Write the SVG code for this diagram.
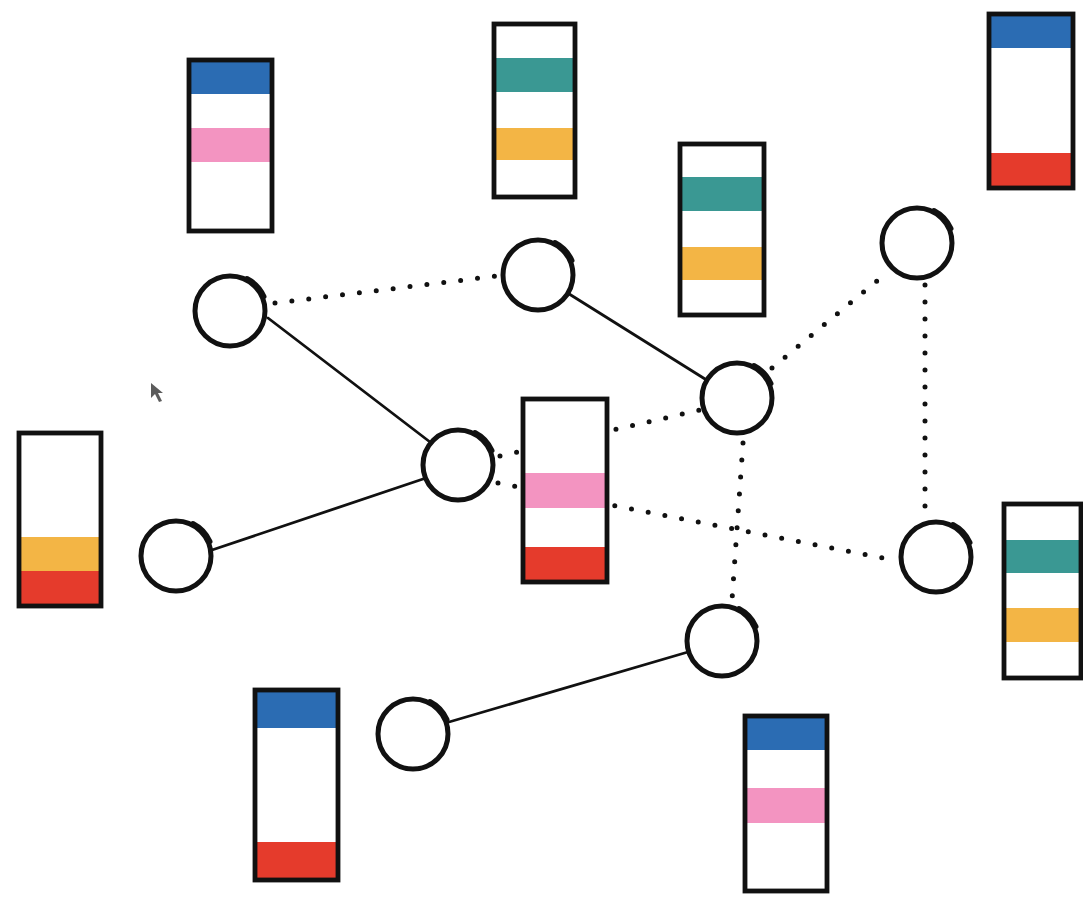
<svg xmlns="http://www.w3.org/2000/svg" xmlns:xlink="http://www.w3.org/1999/xlink" width="1083" height="897" viewBox="0 0 1083 897">
  <style>
    .frame { fill: none; stroke: #111; stroke-width: 4.8; }
    .bg { fill: #fff; }
    .blue { fill: #2b6cb3; }
    .pink { fill: #f394c1; }
    .teal { fill: #3a9893; }
    .orange { fill: #f3b545; }
    .red { fill: #e53b2c; }
    .solid { stroke: #111; stroke-width: 2.8; fill: none; stroke-linecap: round; }
    .dotted { stroke: #111; stroke-width: 5; fill: none; stroke-linecap: round; stroke-dasharray: 0 17; }
    .ring { fill: #fff; stroke: #111; stroke-width: 5; }
    .blob { fill: none; stroke: #111; stroke-width: 5; stroke-linecap: round; }
  </style>
  <defs>
    <!-- hand-drawn style circle with a heavier stroke where the pen overlapped -->
    <g id="ring">
      <circle class="ring" cx="0" cy="0" r="35"/>
      <path class="blob" d="M17,-32.5 A37,37 0 0 1 34,-14.5"/>
    </g>
  </defs>

  <rect x="0" y="0" width="1083" height="897" fill="#fff"/>

  <!-- connectors -->
  <g id="connectors">
    <line class="solid" x1="268" y1="318" x2="430" y2="442"/>
    <line class="solid" x1="212" y1="550" x2="426" y2="478"/>
    <line class="solid" x1="566" y1="292" x2="705" y2="379"/>
    <line class="solid" x1="449" y1="722" x2="688" y2="652"/>
    <line class="dotted" x1="275" y1="303" x2="497" y2="276"/>
    <line class="dotted" x1="500" y1="456" x2="700" y2="410"/>
    <line class="dotted" x1="498" y1="483" x2="888" y2="559"/>
    <line class="dotted" x1="772" y1="368" x2="878" y2="280"/>
    <line class="dotted" x1="925" y1="285" x2="925" y2="510"/>
    <line class="dotted" x1="743" y1="443" x2="732" y2="600"/>
  </g>

  <!-- circle nodes -->
  <g id="node-a"><use xlink:href="#ring" href="#ring" x="230" y="311"/></g>
  <g id="node-b"><use xlink:href="#ring" href="#ring" x="538" y="275"/></g>
  <g id="node-c"><use xlink:href="#ring" href="#ring" x="458" y="465"/></g>
  <g id="node-d"><use xlink:href="#ring" href="#ring" x="176" y="556"/></g>
  <g id="node-e"><use xlink:href="#ring" href="#ring" x="737" y="398"/></g>
  <g id="node-f"><use xlink:href="#ring" href="#ring" x="917" y="243"/></g>
  <g id="node-g"><use xlink:href="#ring" href="#ring" x="936" y="557"/></g>
  <g id="node-h"><use xlink:href="#ring" href="#ring" x="722" y="641"/></g>
  <g id="node-i"><use xlink:href="#ring" href="#ring" x="413" y="734"/></g>

  <!-- striped bars -->
  <g id="bar-1">
    <rect class="bg" x="189" y="60" width="83" height="171"/>
    <rect class="blue" x="189" y="62" width="83" height="32"/>
    <rect class="pink" x="189" y="128" width="83" height="34"/>
    <rect class="frame" x="189" y="60" width="83" height="171"/>
  </g>
  <g id="bar-2">
    <rect class="bg" x="494" y="24" width="81" height="173"/>
    <rect class="teal" x="494" y="58" width="81" height="34"/>
    <rect class="orange" x="494" y="128" width="81" height="32"/>
    <rect class="frame" x="494" y="24" width="81" height="173"/>
  </g>
  <g id="bar-3">
    <rect class="bg" x="680" y="144" width="84" height="171"/>
    <rect class="teal" x="680" y="177" width="84" height="34"/>
    <rect class="orange" x="680" y="247" width="84" height="33"/>
    <rect class="frame" x="680" y="144" width="84" height="171"/>
  </g>
  <g id="bar-4">
    <rect class="bg" x="989" y="14" width="84" height="174"/>
    <rect class="blue" x="989" y="15" width="84" height="33"/>
    <rect class="red" x="989" y="153" width="84" height="34"/>
    <rect class="frame" x="989" y="14" width="84" height="174"/>
  </g>
  <g id="bar-5">
    <rect class="bg" x="19" y="433" width="82" height="173"/>
    <rect class="orange" x="19" y="537" width="82" height="34"/>
    <rect class="red" x="19" y="571" width="82" height="34"/>
    <rect class="frame" x="19" y="433" width="82" height="173"/>
  </g>
  <g id="bar-6">
    <rect class="bg" x="523" y="399" width="84" height="183"/>
    <rect class="pink" x="523" y="473" width="84" height="35"/>
    <rect class="red" x="523" y="547" width="84" height="34"/>
    <rect class="frame" x="523" y="399" width="84" height="183"/>
  </g>
  <g id="bar-7">
    <rect class="bg" x="1004" y="504" width="77" height="174"/>
    <rect class="teal" x="1004" y="540" width="77" height="33"/>
    <rect class="orange" x="1004" y="608" width="77" height="34"/>
    <rect class="frame" x="1004" y="504" width="77" height="174"/>
  </g>
  <g id="bar-8">
    <rect class="bg" x="255" y="690" width="83" height="190"/>
    <rect class="blue" x="255" y="692" width="83" height="36"/>
    <rect class="red" x="255" y="842" width="83" height="36"/>
    <rect class="frame" x="255" y="690" width="83" height="190"/>
  </g>
  <g id="bar-9">
    <rect class="bg" x="745" y="716" width="82" height="175"/>
    <rect class="blue" x="745" y="718" width="82" height="32"/>
    <rect class="pink" x="745" y="788" width="82" height="35"/>
    <rect class="frame" x="745" y="716" width="82" height="175"/>
  </g>

  <!-- mouse pointer -->
  <path d="M151,383 L151,398 L155,394 L159,402 L162,401 L158,393 L163,393 Z" fill="#333" opacity="0.8"/>
</svg>
